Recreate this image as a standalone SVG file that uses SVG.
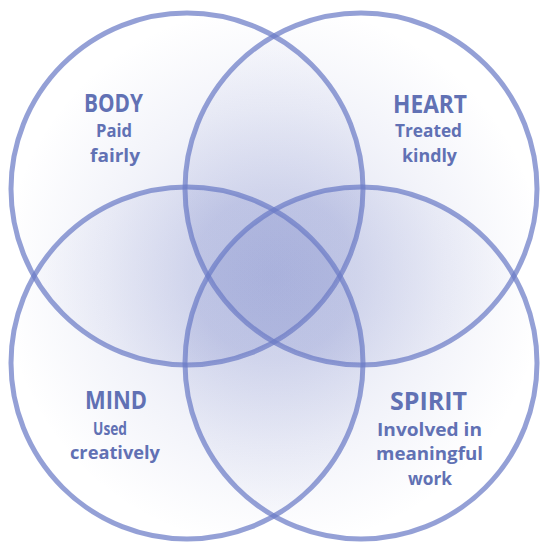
<svg xmlns="http://www.w3.org/2000/svg" width="541" height="543" viewBox="0 0 541 543">
<style>
.c{fill:url(#g);stroke:#6b7bc6;stroke-opacity:0.72;stroke-width:5}
.h{font-family:"Open Sans","Noto Sans",sans-serif;font-weight:bold;font-size:25px;fill:#6171b4;text-anchor:middle}
.s{font-family:"Open Sans","Noto Sans",sans-serif;font-weight:bold;font-size:17.5px;fill:#6171b4;text-anchor:middle}
</style>
<defs>
<radialGradient id="g" gradientUnits="userSpaceOnUse" cx="274" cy="276" r="272">
<stop offset="0" stop-color="#6f7cc4" stop-opacity="0.2"/>
<stop offset="0.3" stop-color="#6f7cc4" stop-opacity="0.18"/>
<stop offset="0.62" stop-color="#6f7cc4" stop-opacity="0.09"/>
<stop offset="1" stop-color="#6f7cc4" stop-opacity="0"/>
</radialGradient>
</defs>
<rect width="541" height="543" fill="#ffffff"/>
<g id="circles">
<circle id="body" class="c" cx="187" cy="189" r="176"/>
<circle id="heart" class="c" cx="361" cy="189" r="176"/>
<circle id="mind" class="c" cx="187" cy="363" r="176"/>
<circle id="spirit" class="c" cx="361" cy="363" r="176"/>
</g>
<g id="body-label">
<text class="h" x="113.5" y="112" textLength="59" lengthAdjust="spacingAndGlyphs">BODY</text>
<text class="s" x="114" y="137" textLength="36" lengthAdjust="spacingAndGlyphs">Paid</text>
<text class="s" x="115" y="162" textLength="50" lengthAdjust="spacingAndGlyphs">fairly</text>
</g>
<g id="heart-label">
<text class="h" x="430" y="113" textLength="74" lengthAdjust="spacingAndGlyphs">HEART</text>
<text class="s" x="428.5" y="137" textLength="67" lengthAdjust="spacingAndGlyphs">Treated</text>
<text class="s" x="429.5" y="162" textLength="55" lengthAdjust="spacingAndGlyphs">kindly</text>
</g>
<g id="mind-label">
<text class="h" x="116" y="409" textLength="62" lengthAdjust="spacingAndGlyphs">MIND</text>
<text class="s" x="110" y="435" textLength="34" lengthAdjust="spacingAndGlyphs">Used</text>
<text class="s" x="115" y="459" textLength="90" lengthAdjust="spacingAndGlyphs">creatively</text>
</g>
<g id="spirit-label">
<text class="h" x="428.5" y="410" textLength="77" lengthAdjust="spacingAndGlyphs">SPIRIT</text>
<text class="s" x="429.5" y="436" textLength="105" lengthAdjust="spacingAndGlyphs">Involved in</text>
<text class="s" x="429.5" y="460" textLength="107" lengthAdjust="spacingAndGlyphs">meaningful</text>
<text class="s" x="430" y="485" textLength="44" lengthAdjust="spacingAndGlyphs">work</text>
</g>
</svg>
